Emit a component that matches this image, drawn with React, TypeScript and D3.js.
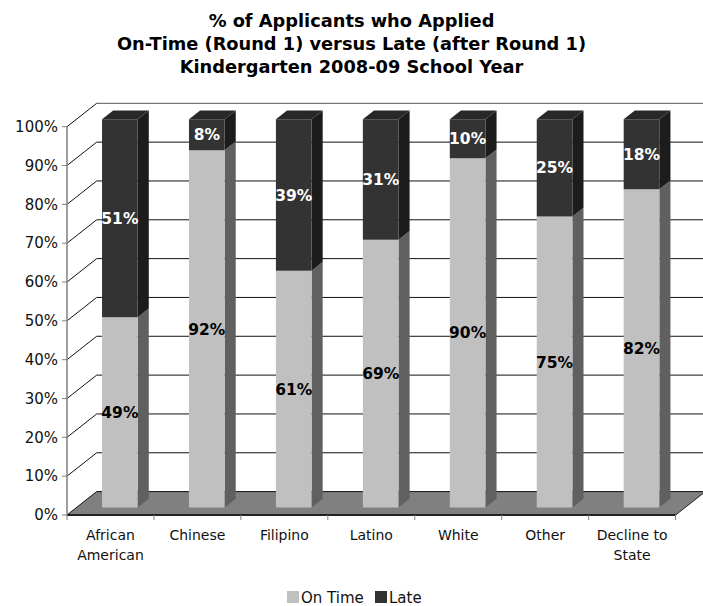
import * as d3 from "d3";

const categories = [
  ["African", "American"],
  ["Chinese"],
  ["Filipino"],
  ["Latino"],
  ["White"],
  ["Other"],
  ["Decline to", "State"],
];
const onTime = [49, 92, 61, 69, 90, 75, 82];
const late = [51, 8, 39, 31, 10, 25, 18];
const yTicks = [0, 10, 20, 30, 40, 50, 60, 70, 80, 90, 100];
const titleLines = [
  "% of Applicants who Applied",
  "On-Time (Round 1) versus Late (after Round 1)",
  "Kindergarten 2008-09 School Year",
];

const W = 703;
const H = 606;
const FONT = "DejaVu Sans, Verdana, sans-serif";

// front plane of the 3D box
const left = 67;
const right = 675.6;
const top = 126.7;
const bottom = 515;
// depth offset of the back wall
const DX = 29.7;
const DY = 23.4;
// bar depth range (fraction of full depth)
const zFront = 0.316;
const zBack = 0.69;

const colors = {
  onFront: "#c0c0c0",
  onSide: "#606060",
  lateFront: "#333333",
  lateSide: "#1c1c1c",
  lateTop: "#282828",
  floor: "#808080",
};

export default function App() {
  const keys = categories.map((c) => c.join(" "));
  const x = d3.scaleBand<string>().domain(keys).range([left, right]);
  const y = d3.scaleLinear().domain([0, 100]).range([bottom, top]);
  const barW = x.bandwidth() * 0.41;

  // project (screen x on front plane, value, depth) -> screen
  const P = (px: number, v: number, z: number): [number, number] => [px + z * DX, y(v) - z * DY];
  const pts = (arr: [number, number][]) => arr.map((p) => p.join(",")).join(" ");

  const bars = keys.map((k, i) => {
    const x0 = (x(k) as number) + x.bandwidth() / 2 - barW / 2;
    const x1 = x0 + barW;
    const segs = [
      { lo: 0, hi: onTime[i], front: colors.onFront, side: colors.onSide, val: onTime[i], text: "#000" },
      { lo: onTime[i], hi: onTime[i] + late[i], front: colors.lateFront, side: colors.lateSide, val: late[i], text: "#fff" },
    ];
    return { k, x0, x1, segs };
  });

  return (
    <svg width={W} height={H} style={{ position: "absolute", left: 0, top: 0, background: "#fff" }} fontFamily={FONT}>
      {/* title */}
      {titleLines.map((t, i) => (
        <text key={i} x={W / 2} y={27 + i * 23} textAnchor="middle" fontWeight="bold" fontSize={17.8}>
          {t}
        </text>
      ))}

      {/* floor */}
      <polygon
        points={pts([P(left, 0, 0), P(right, 0, 0), P(right, 0, 1), P(left, 0, 1)])}
        fill={colors.floor}
      />
      <line x1={left} x2={right} y1={bottom} y2={bottom} stroke="#222" strokeWidth={2} />
      <line x1={right} y1={bottom} x2={P(right, 0, 1)[0]} y2={P(right, 0, 1)[1]} stroke="#222" strokeWidth={1} />

      {/* gridlines: back wall + left wall */}
      {yTicks.map((t) => {
        const [bx, by] = P(left, t, 1);
        return (
          <g key={t}>
            <line x1={bx} x2={P(right, t, 1)[0]} y1={by} y2={by} stroke={t === 100 ? "#555" : "#111"} strokeWidth={1} />
            <line x1={left} y1={y(t)} x2={bx} y2={by} stroke="#111" strokeWidth={1} />
          </g>
        );
      })}

      {/* y axis */}
      <line x1={left} x2={left} y1={top} y2={bottom} stroke="#808080" strokeWidth={1.5} />
      {yTicks.map((t) => (
        <g key={t}>
          <line x1={left - 5} x2={left} y1={y(t)} y2={y(t)} stroke="#808080" />
          <text x={left - 9} y={y(t)} dy="0.35em" textAnchor="end" fontSize={15} fill="#111">
            {t}%
          </text>
        </g>
      ))}

      {/* x ticks + labels */}
      {d3.range(keys.length + 1).map((i) => {
        const px = left + i * x.bandwidth();
        return <line key={i} x1={px} x2={px} y1={bottom} y2={bottom + 5} stroke="#808080" />;
      })}
      {keys.map((k, i) => (
        <text key={k} x={(x(k) as number) + x.bandwidth() / 2} y={540} textAnchor="middle" fontSize={14} fill="#111">
          {categories[i].map((line, j) => (
            <tspan key={j} x={(x(k) as number) + x.bandwidth() / 2} dy={j === 0 ? 0 : 20}>
              {line}
            </tspan>
          ))}
        </text>
      ))}

      {/* 3D bars */}
      {bars.map((b) => (
        <g key={b.k}>
          {b.segs.map((s, j) => (
            <g key={j}>
              <polygon
                points={pts([P(b.x1, s.lo, zFront), P(b.x1, s.lo, zBack), P(b.x1, s.hi, zBack), P(b.x1, s.hi, zFront)])}
                fill={s.side}
              />
              <polygon
                points={pts([P(b.x0, s.lo, zFront), P(b.x1, s.lo, zFront), P(b.x1, s.hi, zFront), P(b.x0, s.hi, zFront)])}
                fill={s.front}
              />
            </g>
          ))}
          <polygon
            points={pts([
              P(b.x0, 100, zFront),
              P(b.x1, 100, zFront),
              P(b.x1, 100, zBack),
              P(b.x0, 100, zBack),
            ])}
            fill={colors.lateTop}
          />
          {b.segs.map((s, j) => {
            const [cx, cy] = P((b.x0 + b.x1) / 2, (s.lo + s.hi) / 2, zFront);
            return (
              <text key={j} x={cx} y={cy} dy="0.36em" textAnchor="middle" fontWeight="bold" fontSize={15.5} fill={s.text}>
                {s.val}%
              </text>
            );
          })}
        </g>
      ))}

      {/* legend */}
      <rect x={287} y={591} width={12} height={12} fill={colors.onFront} />
      <text x={301} y={603} fontSize={15} fill="#111">On Time</text>
      <rect x={375} y={591} width={12} height={12} fill={colors.lateFront} />
      <text x={389} y={603} fontSize={15} fill="#111">Late</text>
    </svg>
  );
}
